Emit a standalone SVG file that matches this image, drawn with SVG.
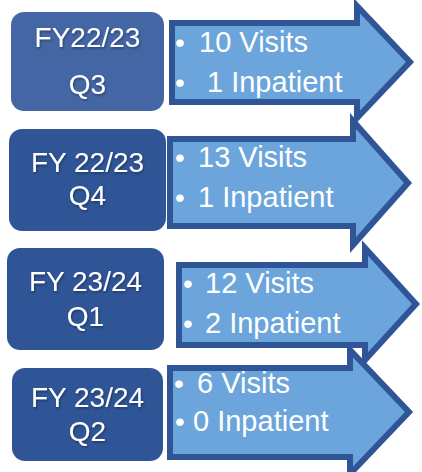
<svg xmlns="http://www.w3.org/2000/svg" width="422" height="472" viewBox="0 0 422 472">
<defs>
<filter id="sh" x="-10%" y="-10%" width="130%" height="140%">
<feDropShadow dx="1" dy="1.5" stdDeviation="1" flood-color="#000" flood-opacity="0.35"/>
</filter>
</defs>
<style>
.box{fill:#2F5597}
.box1{fill:#4466A5}
.arrow{fill:#6CA5DB;stroke:#2F5597;stroke-width:6;stroke-linejoin:miter;stroke-miterlimit:10}
text{font-family:"Liberation Sans",Arial,sans-serif;font-size:28px;fill:#fff}
.t{font-size:29px}
.lbl{text-anchor:middle;filter:url(#sh)}
.b{text-anchor:middle}
</style>
<rect width="422" height="472" fill="#fff"/>
<g id="connectors">
<path id="arrow1" class="arrow" d="M172 23 H357 V6 L410 62 L357 118 V102 H172 Z"/>
<path id="arrow2" class="arrow" d="M170 139 H353 V121 L408 183 L353 245 V226 H170 Z"/>
<path id="arrow3" class="arrow" d="M179 265 H365 V248 L416 304 L365 360 V345 H179 Z"/>
<path id="arrow4" class="arrow" d="M170 368 H350 V350 L409 412 L350 474 V457 H170 Z"/>
</g>
<g id="node1">
<rect class="box1" x="11" y="12" width="153" height="99" rx="13"/>
<text class="lbl" x="87.5" y="47">FY22/23</text>
<text class="lbl" x="87.5" y="94">Q3</text>
</g>
<g id="node2">
<rect class="box" x="9" y="129" width="157" height="102" rx="13"/>
<text class="lbl" x="87.5" y="172">FY 22/23</text>
<text class="lbl" x="87.5" y="205">Q4</text>
</g>
<g id="node3">
<rect class="box" x="7" y="248" width="157" height="102" rx="13"/>
<text class="lbl" x="85.5" y="291">FY 23/24</text>
<text class="lbl" x="85.5" y="326">Q1</text>
</g>
<g id="node4">
<rect class="box" x="12" y="368" width="151" height="93" rx="13"/>
<text class="lbl" x="87.5" y="407">FY 23/24</text>
<text class="lbl" x="87.5" y="441">Q2</text>
</g>
<g id="arrow-text1">
<text class="b" x="180" y="52">•</text>
<text class="t" x="199" y="52">10 Visits</text>
<text class="b" x="180" y="92">•</text>
<text class="t" x="207" y="92">1 Inpatient</text>
</g>
<g id="arrow-text2">
<text class="b" x="180" y="167">•</text>
<text class="t" x="198" y="167">13 Visits</text>
<text class="b" x="180" y="207">•</text>
<text class="t" x="198" y="207">1 Inpatient</text>
</g>
<g id="arrow-text3">
<text class="b" x="188" y="293">•</text>
<text class="t" x="205" y="293">12 Visits</text>
<text class="b" x="188" y="333">•</text>
<text class="t" x="205" y="333">2 Inpatient</text>
</g>
<g id="arrow-text4">
<text class="b" x="179" y="393">•</text>
<text class="t" x="197" y="393">6 Visits</text>
<text class="b" x="180" y="431">•</text>
<text class="t" x="193" y="431">0 Inpatient</text>
</g>
</svg>
